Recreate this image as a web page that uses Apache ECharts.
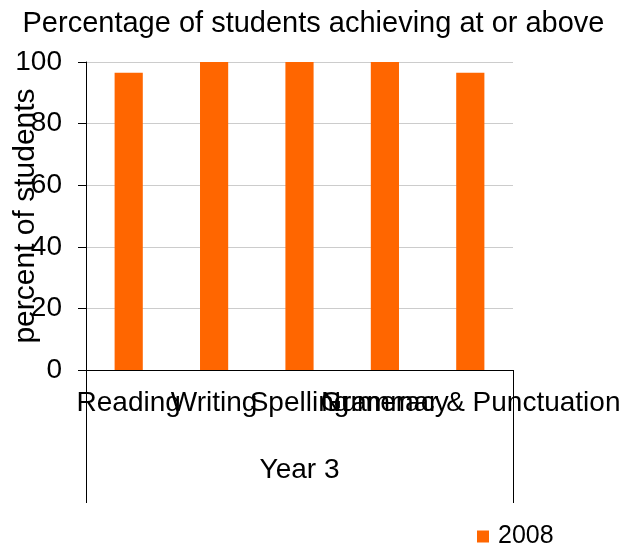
<!DOCTYPE html>
<html>
<head>
<meta charset="utf-8">
<script src="https://cdn.jsdelivr.net/npm/echarts@6/dist/echarts.min.js"></script>
<style>
  html, body { margin: 0; padding: 0; background: #fff; }
  #chart { width: 627px; height: 547px; }
</style>
</head>
<body>
<div id="chart"></div>
<script>
// data
var categories = ['Reading', 'Writing', 'Spelling', 'Numeracy', 'Grammar & Punctuation'];
var groupLabels = ['Year 3'];
var values2008 = [96.5, 100, 100, 100, 96.5];
var seriesName = '2008';

var font = 'Liberation Sans, Arial, sans-serif';
var chart = echarts.init(document.getElementById('chart'));

var option = {
    backgroundColor: '#ffffff',
    animation: false,
    title: {
        text: 'Percentage of students achieving at or above',
        left: 'center',
        top: 4,
        textStyle: {
            fontFamily: font,
            fontWeight: 'normal',
            fontSize: 29,
            color: '#000'
        }
    },
    legend: {
        data: [seriesName],
        left: 472,
        top: 519,
        icon: 'rect',
        itemWidth: 12,
        itemHeight: 12,
        textStyle: {
            fontFamily: font,
            fontSize: 25,
            color: '#000',
            padding: [0, 0, 0, 4]
        }
    },
    grid: {
        left: 86,
        right: 114,
        top: 62,
        bottom: 177,
        containLabel: false,
        outerBoundsMode: 'none'
    },
    xAxis: [{
        type: 'category',
        data: categories,
        position: 'bottom',
        axisLine: { show: true, lineStyle: { color: '#000', width: 1 } },
        axisTick: { show: false },
        axisLabel: {
            interval: 0,
            hideOverlap: false,
            margin: 19,
            fontFamily: font,
            fontSize: 28,
            color: '#000'
        }
    }, {
        // group level under the categories (Excel style box)
        type: 'category',
        data: groupLabels,
        position: 'bottom',
        axisLine: { show: false },
        axisTick: {
            show: true,
            length: 133,
            lineStyle: { color: '#000', width: 1 }
        },
        axisLabel: {
            margin: 86,
            fontFamily: font,
            fontSize: 28,
            color: '#000'
        }
    }],
    yAxis: {
        type: 'value',
        min: 0,
        max: 100,
        interval: 20,
        name: 'percent of students',
        nameLocation: 'middle',
        nameGap: 45,
        nameMoveOverlap: false,
        nameTextStyle: {
            fontFamily: font,
            fontSize: 30,
            color: '#000'
        },
        axisLine: { show: true, lineStyle: { color: '#000', width: 1 } },
        axisTick: { show: true, length: 8, lineStyle: { color: '#000' } },
        axisLabel: {
            margin: 24,
            fontFamily: font,
            fontSize: 28,
            color: '#000'
        },
        splitLine: { show: true, lineStyle: { color: '#cccccc', width: 1 } }
    },
    series: [{
        name: seriesName,
        type: 'bar',
        xAxisIndex: 0,
        data: values2008,
        barWidth: '33%',
        itemStyle: { color: '#ff6600' }
    }]
};

chart.setOption(option);
</script>
</body>
</html>
